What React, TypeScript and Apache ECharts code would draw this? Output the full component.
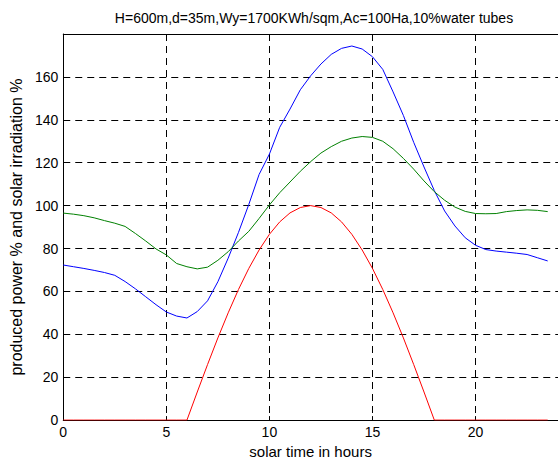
import React, { useEffect, useRef } from "react";
import * as echarts from "echarts";

const hours: number[] = [
  0, 0.5, 1, 1.5, 2, 2.5, 3, 3.5, 4, 4.5, 5, 5.5, 6, 6.5, 7, 7.5, 8, 8.5, 9, 9.5,
  10, 10.5, 11, 11.5, 12, 12.5, 13, 13.5, 14, 14.5, 15, 15.5, 16, 16.5, 17, 17.5,
  18, 18.5, 19, 19.5, 20, 20.5, 21, 21.5, 22, 22.5, 23, 23.5,
];

const bluePower: number[] = [
  72.3, 71.5, 70.7, 69.8, 68.8, 67.5, 64.6, 61.2, 57.5, 53.8, 50.4, 48.5, 47.6,
  50.6, 55.6, 64.5, 75.5, 87.5, 100.5, 114.5, 124, 136.5, 145, 154, 160.5, 166,
  170.5, 173.3, 174.4, 173, 169.4, 163.5, 153, 142, 129.5, 118, 107, 97.5, 90.5,
  85, 81.5, 79.5, 78.8, 78.3, 77.8, 77.2, 75.7, 74.2,
];

const greenPower: number[] = [
  96.5, 96, 95.3, 94.3, 93, 91.8, 90.3, 87, 83.5, 79.8, 77, 73, 71.5, 70.5, 71.3,
  74.5, 78.5, 83.5, 88, 94, 100.3, 106, 111, 116, 120.5, 124.5, 127.5, 130,
  131.5, 132.2, 131.8, 130, 126.5, 122, 117, 111.5, 106.5, 102.5, 99.3, 97.3,
  96.3, 96.2, 96.3, 97.2, 97.7, 98, 97.8, 97.2,
];

const redIrradiation: number[] = [
  0, 0, 0, 0, 0, 0, 0, 0, 0, 0, 0, 0, 0, 13.1, 25.9, 38.3, 50, 60.9, 70.7, 79.3,
  86.6, 92.4, 96.6, 99.1, 100, 99.1, 96.6, 92.4, 86.6, 79.3, 70.7, 60.9, 50,
  38.3, 25.9, 13.1, 0, 0, 0, 0, 0, 0, 0, 0, 0, 0, 0, 0,
];

const xTicks: number[] = [0, 5, 10, 15, 20];
const yTicks: number[] = [0, 20, 40, 60, 80, 100, 120, 140, 160];

const titleText = "H=600m,d=35m,Wy=1700KWh/sqm,Ac=100Ha,10%water tubes";
const xName = "solar time in hours";
const yName = "produced power % and solar irradiation %";

const FONT = "Liberation Sans, Arial, Helvetica, sans-serif";

export default function App() {
  const ref = useRef<HTMLDivElement>(null);

  useEffect(() => {
    if (!ref.current) return;
    const chart = echarts.init(ref.current, null, { renderer: "svg" });
    const pairs = (vals: number[]) => hours.map((h, i) => [h, vals[i]]);
    const gridDash = { type: [7, 5] as any, color: "#000", width: 1 };

    chart.setOption({
      animation: false,
      backgroundColor: "#fff",
      title: {
        text: titleText,
        left: 309,
        textAlign: "center",
        top: 6,
        textStyle: { fontFamily: FONT, fontSize: 14, fontWeight: "normal", color: "#000" },
      },
      grid: { left: 60, top: 34, width: 499, height: 392, containLabel: false },
      xAxis: [
        {
          type: "value",
          min: 0,
          max: 24,
          interval: 5,
          name: xName,
          nameLocation: "middle",
          nameGap: 22,
          nameTextStyle: { fontFamily: FONT, fontSize: 15, color: "#000" },
          axisLine: { show: true, lineStyle: { color: "#000", width: 1 } },
          axisTick: { show: true, inside: true, length: 4, lineStyle: { color: "#000" } },
          axisLabel: {
            fontFamily: FONT,
            fontSize: 14,
            color: "#000",
            margin: 5,
            showMaxLabel: false,
            formatter: (v: number) => (xTicks.includes(v) ? String(v) : ""),
          },
          splitLine: { show: true, lineStyle: gridDash },
        },
        {
          type: "value",
          position: "top",
          min: 0,
          max: 24,
          interval: 5,
          axisLine: { show: true, lineStyle: { color: "#000", width: 1 } },
          axisTick: { show: false },
          axisLabel: { show: false },
          splitLine: { show: false },
        },
      ],
      yAxis: [
        {
          type: "value",
          min: 0,
          max: 180,
          interval: 20,
          name: yName,
          nameLocation: "middle",
          nameGap: 35,
          nameTextStyle: { fontFamily: FONT, fontSize: 16, color: "#000" },
          axisLine: { show: true, lineStyle: { color: "#000", width: 1 } },
          axisTick: { show: true, inside: true, length: 4, lineStyle: { color: "#000" } },
          axisLabel: {
            fontFamily: FONT,
            fontSize: 14,
            color: "#000",
            margin: 5,
            showMaxLabel: false,
            formatter: (v: number) => (yTicks.includes(v) ? String(v) : ""),
          },
          splitLine: { show: true, lineStyle: gridDash },
        },
      ],
      series: [
        {
          type: "line",
          data: pairs(bluePower),
          showSymbol: false,
          lineStyle: { color: "#0000ff", width: 1 },
          itemStyle: { color: "#0000ff" },
          z: 3,
        },
        {
          type: "line",
          data: pairs(greenPower),
          showSymbol: false,
          lineStyle: { color: "#008000", width: 1 },
          itemStyle: { color: "#008000" },
          z: 3,
        },
        {
          type: "line",
          data: pairs(redIrradiation),
          showSymbol: false,
          lineStyle: { color: "#ff0000", width: 1 },
          itemStyle: { color: "#ff0000" },
          z: 4,
        },
      ],
    });

    return () => chart.dispose();
  }, []);

  return <div ref={ref} style={{ width: 558, height: 464, position: "fixed", left: 0, top: 0 }} />;
}
